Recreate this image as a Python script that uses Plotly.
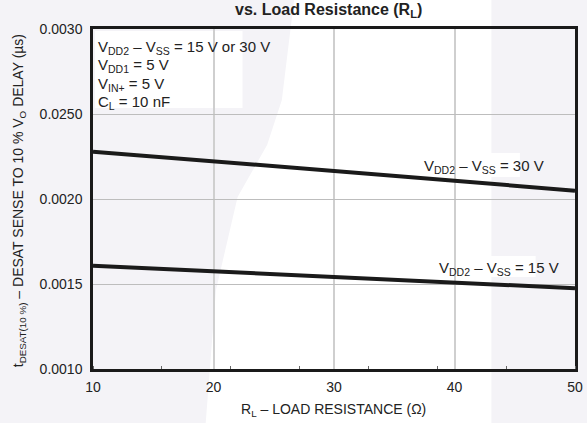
import plotly.graph_objects as go

# ---- data ----
load_resistance = [10, 20, 30, 40, 50]
delay_30v = [0.002278, 0.002222, 0.002166, 0.002108, 0.002048]
delay_15v = [0.001608, 0.001575, 0.001545, 0.001510, 0.001475]
y_tick_vals = [0.0010, 0.0015, 0.0020, 0.0025, 0.0030]
y_tick_text = ["0.0010", "0.0015", "0.0020", "0.0250", "0.0030"]
x_tick_vals = [10, 20, 30, 40, 50]

FONT = "Liberation Sans, Arial, Helvetica, sans-serif"
TXT = "#222222"
LINE = "#1a1a1a"
GREY_BG = "#f4f3f7"

# plot area in pixels
L, R, T, B = 93, 583, 29, 369
W, H = R - L, B - T


def xp(px):
    return (px - L) / W


def yp(py):
    return (B - py) / H


fig = go.Figure()
fig.add_trace(go.Scatter(x=load_resistance, y=delay_30v, mode="lines",
                         line=dict(color=LINE, width=4), showlegend=False, hoverinfo="skip"))
fig.add_trace(go.Scatter(x=load_resistance, y=delay_15v, mode="lines",
                         line=dict(color=LINE, width=4), showlegend=False, hoverinfo="skip"))

# background watermark regions
left_pts = [(-5, -5), (298, -5), (285, 100), (270, 145), (240, 197), (218, 290), (207, 430), (-5, 430)]
path = "M " + " L ".join(f"{xp(a):.4f},{yp(b):.4f}" for a, b in left_pts) + " Z"
shapes = [
    dict(type="path", path=path, xref="paper", yref="paper", fillcolor=GREY_BG,
         line=dict(width=0), layer="below"),
    dict(type="rect", xref="paper", yref="paper", x0=xp(498), x1=xp(600), y0=yp(430), y1=yp(-5),
         fillcolor=GREY_BG, line=dict(width=0), layer="below"),
    # white boxes behind texts
    dict(type="rect", xref="paper", yref="paper", x0=xp(95), x1=xp(245), y0=yp(108), y1=yp(31),
         fillcolor="white", line=dict(width=0), layer="between"),
    dict(type="rect", xref="paper", yref="paper", x0=xp(425), x1=xp(527), y0=yp(177), y1=yp(153),
         fillcolor="white", line=dict(width=0), layer="between"),
    dict(type="rect", xref="paper", yref="paper", x0=xp(442), x1=xp(543), y0=yp(277), y1=yp(256),
         fillcolor="white", line=dict(width=0), layer="between"),
]

annotations = []


def ann(text, px, py, size=14, xanchor="left", yanchor="middle", angle=0, bold=False):
    if bold:
        text = "<b>" + text + "</b>"
    annotations.append(dict(text=text, xref="paper", yref="paper", x=xp(px), y=yp(py),
                            xanchor=xanchor, yanchor=yanchor, showarrow=False, textangle=angle,
                            font=dict(family=FONT, size=size, color=TXT)))


ann("vs. Load Resistance (R<sub>L</sub>)", 332, 11, size=16, xanchor="center", bold=True)
ann("V<sub>DD2</sub> – V<sub>SS</sub> = 15 V or 30 V", 96, 47, size=15)
ann("V<sub>DD1</sub> = 5 V", 96, 66, size=15)
ann("V<sub>IN+</sub> = 5 V", 96, 84, size=15)
ann("C<sub>L</sub> = 10 nF", 96, 102, size=15)
ann("V<sub>DD2</sub> – V<sub>SS</sub> = 30 V", 427, 166, size=15)
ann("V<sub>DD2</sub> – V<sub>SS</sub> = 15 V", 443, 268, size=15)
ann("t<sub>DESAT(10 %)</sub> – DESAT SENSE TO 10 % V<sub>O</sub> DELAY (µs)", 18, 201,
    size=14, xanchor="center", angle=-90)
ann("R<sub>L</sub> – LOAD RESISTANCE (Ω)", 337, 410, size=14, xanchor="center")

fig.update_layout(
    width=587, height=423,
    margin=dict(l=L, r=587 - R, t=T, b=423 - B, pad=0),
    paper_bgcolor="white",
    plot_bgcolor="rgba(0,0,0,0)",
    shapes=shapes,
    annotations=annotations,
    font=dict(family=FONT, size=14, color=TXT),
    hovermode=False,
)
fig.update_xaxes(
    range=[10, 50], tickvals=x_tick_vals, ticks="", ticklabelstandoff=3,
    ticklabeloverflow="allow",
    showgrid=True, gridcolor="#cfcfcf", gridwidth=1.5,
    showline=True, linecolor=LINE, linewidth=2.5, mirror=True, zeroline=False,
    tickfont=dict(family=FONT, size=14, color=TXT),
    minor=dict(ticks="inside", ticklen=3, tickcolor="#666", tick0=10, dtick=40 / 7, showgrid=False),
)
fig.update_yaxes(
    range=[0.001, 0.003], tickvals=y_tick_vals, ticktext=y_tick_text, ticks="",
    ticklabelstandoff=5, ticklabeloverflow="allow",
    showgrid=True, gridcolor="#bdbdbd", gridwidth=1,
    showline=True, linecolor=LINE, linewidth=2.5, mirror=True, zeroline=False,
    tickfont=dict(family=FONT, size=14, color=TXT),
)

fig.write_html("out.html", config={"displayModeBar": False},
               post_script="document.body.style.margin='0';")
